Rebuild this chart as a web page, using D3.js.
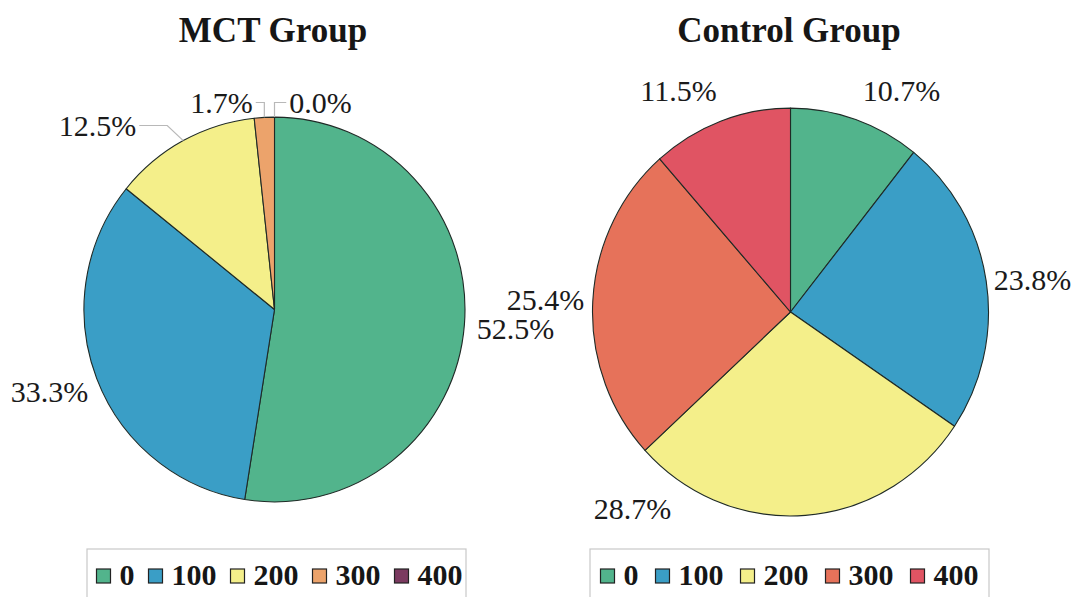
<!DOCTYPE html>
<html>
<head>
<meta charset="utf-8">
<script src="https://cdn.jsdelivr.net/npm/d3@7"></script>
<style>
  html, body { margin: 0; padding: 0; background: #ffffff; }
  svg { display: block; }
</style>
</head>
<body>
<svg id="chart" width="1087" height="597"></svg>
<script>
// Dose categories shared by both groups
const categories = ["0", "100", "200", "300", "400"];

// Percent of subjects per dose, MCT group
const mctValues = [52.5, 33.3, 12.5, 1.7, 0.0];

// Percent of subjects per dose, control group
const controlValues = [10.7, 23.8, 28.7, 25.4, 11.5];

// Slice fills
const mctColors = ["#52b48c", "#3a9ec6", "#f4ef8a", "#eca36b", "#7b3a60"];
const controlColors = ["#52b48c", "#3a9ec6", "#f4ef8a", "#e6725a", "#e05463"];

// Label placement (centre x, baseline) relative to each pie's centre
const mctLabelSpots = [[241, 29], [-225, 92], [-177, -174], [-53, -197], [46, -197]];
const controlLabelSpots = [[111, -211], [242, -22], [-158, 207], [-245, -2], [-112, -211]];

// Leader lines for the crowded MCT labels: knee offset from the rim point (null = no leader)
const mctLeaders = [null, null, -16, 0, 0];
const controlLeaders = [null, null, null, null, null];

const SERIF = '"Liberation Serif", "Times New Roman", Tinos, serif';
const svg = d3.select("#chart");

const pie = d3.pie().sort(null).value(d => d.value);

function drawPanel(cfg) {
  const g = svg.append("g");
  const data = cfg.values.map((v, i) => ({ key: categories[i], value: v, color: cfg.colors[i], spot: cfg.spots[i], knee: cfg.leaders[i] }));
  const arcs = pie(data);

  // Title
  g.append("text")
    .attr("x", cfg.titleX).attr("y", 42)
    .attr("text-anchor", "middle")
    .style("font-family", SERIF)
    .style("font-weight", "bold")
    .style("font-size", "35px")
    .attr("fill", "#161616")
    .text(cfg.title);

  const pg = g.append("g").attr("transform", `translate(${cfg.cx},${cfg.cy})`);
  const arc = d3.arc().innerRadius(0).outerRadius(cfg.r);
  const rim = d3.arc().innerRadius(cfg.r).outerRadius(cfg.r);

  // Slices (the pie is very slightly taller than wide)
  pg.append("g")
    .attr("transform", `scale(1,${cfg.sy})`)
    .selectAll("path.slice")
    .data(arcs.filter(d => d.value > 0))
    .join("path")
    .attr("class", "slice")
    .attr("d", arc)
    .attr("fill", d => d.data.color)
    .attr("stroke", "#1f2a26")
    .attr("stroke-width", 1.1)
    .attr("stroke-linejoin", "round");

  // Percentage labels
  const labels = pg.selectAll("text.pct")
    .data(arcs)
    .join("text")
    .attr("class", "pct")
    .attr("x", d => d.data.spot[0])
    .attr("y", d => d.data.spot[1])
    .attr("text-anchor", "middle")
    .style("font-family", SERIF)
    .style("font-size", "30px")
    .attr("fill", "#1a1a1a")
    .text(d => d.data.value.toFixed(1) + "%");

  // Leader lines from label to rim
  labels.each(function (d) {
    if (d.data.knee === null) return;
    const w = this.getComputedTextLength();
    const c = rim.centroid(d);
    const px = c[0], py = c[1] * cfg.sy;
    const [lx, ly] = d.data.spot;
    const y = ly - 10;
    const startX = lx < px ? lx + w / 2 + 3 : lx - w / 2 - 3;
    const kneeX = px + d.data.knee;
    pg.append("path")
      .attr("d", d3.line()([[startX, y], [kneeX, y], [px, py]]))
      .attr("fill", "none")
      .attr("stroke", "#b8b8b8")
      .attr("stroke-width", 1.2);
  });

  // Legend
  const lg = g.append("g");
  lg.append("rect")
    .attr("x", cfg.legX).attr("y", 549)
    .attr("width", cfg.legW).attr("height", 49)
    .attr("fill", "#ffffff")
    .attr("stroke", "#c8c8c8")
    .attr("stroke-width", 1.2);

  const sw = 14, gapIn = 9, gapOut = cfg.legGap;
  const items = lg.selectAll("g.item").data(data).join("g").attr("class", "item");
  items.append("rect")
    .attr("width", sw).attr("height", sw)
    .attr("y", 569)
    .attr("fill", d => d.color)
    .attr("stroke", "#222")
    .attr("stroke-width", 1.2);
  items.append("text")
    .attr("y", 585)
    .style("font-family", SERIF)
    .style("font-weight", "bold")
    .style("font-size", "30px")
    .attr("fill", "#161616")
    .text(d => d.key);

  const widths = [];
  items.select("text").each(function () { widths.push(this.getComputedTextLength()); });
  const total = widths.reduce((s, w) => s + sw + gapIn + w, 0) + gapOut * (widths.length - 1);
  let x = cfg.legX + (cfg.legW - total) / 2 + cfg.legShift;
  items.each(function (d, i) {
    const it = d3.select(this);
    it.select("rect").attr("x", x);
    it.select("text").attr("x", x + sw + gapIn);
    x += sw + gapIn + widths[i] + gapOut;
  });
}

drawPanel({
  title: "MCT Group", titleX: 273,
  values: mctValues, colors: mctColors, spots: mctLabelSpots, leaders: mctLeaders,
  cx: 274.5, cy: 309.5, r: 190.5, sy: 1.01,
  legX: 87, legW: 379, legGap: 14, legShift: 3
});

drawPanel({
  title: "Control Group", titleX: 789,
  values: controlValues, colors: controlColors, spots: controlLabelSpots, leaders: controlLeaders,
  cx: 790.5, cy: 312, r: 198, sy: 1.03,
  legX: 590, legW: 399, legGap: 17, legShift: 0
});
</script>
</body>
</html>
